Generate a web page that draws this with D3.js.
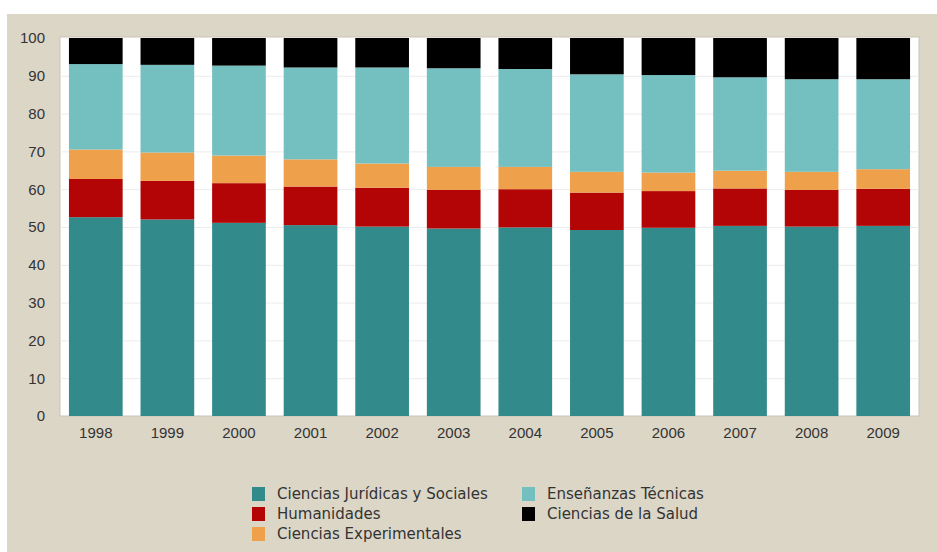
<!DOCTYPE html>
<html>
<head>
<meta charset="utf-8">
<script src="https://cdn.jsdelivr.net/npm/d3@7"></script>
<style>
  body { margin: 0; background: #fff; }
  svg { display: block; font-family: "DejaVu Sans", Verdana, sans-serif; }
</style>
</head>
<body>
<svg id="chart" width="937" height="552"></svg>
<script>
// data (percent of students per branch)
var years = ["1998", "1999", "2000", "2001", "2002", "2003", "2004", "2005", "2006", "2007", "2008", "2009"];
var juridicas = [52.6, 52.0, 51.1, 50.5, 50.1, 49.6, 49.9, 49.2, 49.8, 50.3, 50.1, 50.3];
var humanidades = [10.1, 10.2, 10.5, 10.2, 10.3, 10.2, 10.1, 9.9, 9.7, 9.9, 9.7, 9.8];
var experimentales = [7.8, 7.5, 7.3, 7.2, 6.4, 6.1, 5.9, 5.5, 4.9, 4.7, 4.8, 5.2];
var tecnicas = [22.6, 23.2, 23.8, 24.3, 25.4, 26.1, 25.9, 25.8, 25.8, 24.7, 24.5, 23.8];
var salud = [6.9, 7.1, 7.3, 7.8, 7.8, 8.0, 8.2, 9.6, 9.8, 10.4, 10.9, 10.9];
var yTicks = [0, 10, 20, 30, 40, 50, 60, 70, 80, 90, 100];

var series = [
  { key: "jur", name: "Ciencias Jurídicas y Sociales", values: juridicas, color: "#338a8a" },
  { key: "hum", name: "Humanidades", values: humanidades, color: "#b30505" },
  { key: "exp", name: "Ciencias Experimentales", values: experimentales, color: "#efa04a" },
  { key: "tec", name: "Enseñanzas Técnicas", values: tecnicas, color: "#74bfbf" },
  { key: "sal", name: "Ciencias de la Salud", values: salud, color: "#000000" }
];

var svg = d3.select("#chart");

// beige panel behind everything
svg.append("rect")
  .attr("x", 7).attr("y", 14)
  .attr("width", 930).attr("height", 538)
  .attr("fill", "#dcd6c7");

var plotLeft = 60, plotRight = 919, plotTop = 38, plotBottom = 416;

var x = d3.scaleBand().domain(years).range([plotLeft, plotRight]).paddingInner(0.25).paddingOuter(0.125);
var y = d3.scaleLinear().domain([0, 100]).range([plotBottom, plotTop]);

// plot area
svg.append("rect")
  .attr("x", plotLeft).attr("y", plotTop - 1)
  .attr("width", plotRight - plotLeft).attr("height", plotBottom - plotTop + 1)
  .attr("fill", "#ffffff")
  .attr("stroke", "#c9c4b8");

// faint gridlines
svg.append("g").selectAll("line")
  .data(yTicks.slice(1, -1))
  .enter().append("line")
  .attr("x1", plotLeft).attr("x2", plotRight)
  .attr("y1", function(d) { return y(d) + 0.5; })
  .attr("y2", function(d) { return y(d) + 0.5; })
  .attr("stroke", "#ececec");

// stack the rows
var rows = years.map(function(yr, i) {
  var r = { year: yr };
  series.forEach(function(s) { r[s.key] = s.values[i]; });
  return r;
});
var stacked = d3.stack().keys(series.map(function(s) { return s.key; }))(rows);

svg.append("g").selectAll("g")
  .data(stacked)
  .enter().append("g")
  .attr("fill", function(d, i) { return series[i].color; })
  .selectAll("rect")
  .data(function(d) { return d; })
  .enter().append("rect")
  .attr("x", function(d) { return x(d.data.year); })
  .attr("width", x.bandwidth())
  .attr("y", function(d) { return y(Math.min(d[1], 100)); })
  .attr("height", function(d) { return y(d[0]) - y(Math.min(d[1], 100)); });

// y axis
var yAxis = svg.append("g")
  .attr("transform", "translate(" + (plotLeft - 15) + ",0)")
  .call(d3.axisLeft(y).tickValues(yTicks).tickSize(0).tickPadding(0));
yAxis.select(".domain").remove();
yAxis.selectAll("text")
  .attr("fill", "#333")
  .style("font-size", "15px");

// x axis
var xAxis = svg.append("g")
  .attr("transform", "translate(0," + (plotBottom + 11) + ")")
  .call(d3.axisBottom(x).tickSize(0).tickPadding(0));
xAxis.select(".domain").remove();
xAxis.selectAll("text")
  .attr("fill", "#333")
  .style("font-size", "15px");

// legend, two columns
var legendPos = [
  [252, 494], [252, 514], [252, 534],
  [522, 494], [522, 514]
];
var legendOrder = ["jur", "hum", "exp", "tec", "sal"];
var legend = svg.append("g").selectAll("g")
  .data(legendOrder.map(function(k) { return series.find(function(s) { return s.key === k; }); }))
  .enter().append("g")
  .attr("transform", function(d, i) { return "translate(" + legendPos[i][0] + "," + legendPos[i][1] + ")"; });

legend.append("rect")
  .attr("x", 0).attr("y", -7)
  .attr("width", 13).attr("height", 14)
  .attr("fill", function(d) { return d.color; });

legend.append("text")
  .attr("x", 25).attr("y", 5)
  .attr("fill", "#333")
  .style("font-size", "15px")
  .text(function(d) { return d.name; });
</script>
</body>
</html>
